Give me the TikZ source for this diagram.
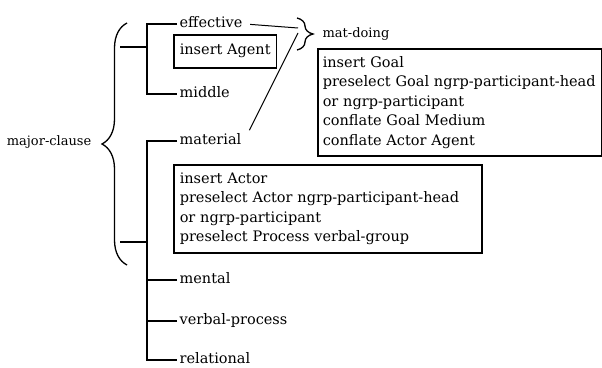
\documentclass[tikz,border=0pt]{standalone}
\usepackage{fontspec}
\setmainfont{DejaVu Serif}
\usetikzlibrary{positioning,decorations.pathreplacing}

\begin{document}
\begin{tikzpicture}[
  x=1pt, y=-1pt,
  font=\fontsize{14.5}{19.5}\selectfont,
  line width=1.3pt,
  feat/.style={anchor=west, inner xsep=2pt, inner ysep=0pt, text height=0.7em, text depth=0pt},
  realbox/.style={draw, anchor=north west, align=left, inner xsep=6pt, inner ysep=4pt, line width=1.5pt},
  brc/.style={decorate, decoration={brace, amplitude=#1}},
  small/.style={font=\fontsize{13}{16}\selectfont, inner sep=0pt}
]

\useasboundingbox (0,0) rectangle (602,367);

% system root
\node[small, anchor=east] (mc) at (92,142) {major-clause};
\draw[brc=25] (127,265) -- (127,23);
\coordinate (s1) at (120,47);
\coordinate (s2) at (120,242);
\coordinate (j1) at (147,47);
\coordinate (j2) at (147,242);

% agency
\node[feat] (eff) at (177,24) {effective};
\node[feat] (mid) at (177,94) {middle};
\draw (s1) -- (j1);
\draw (eff.west) -| (j1) |- (mid.west);
\node[realbox, minimum height=33pt] (agent) at (173,34) {insert Agent};

% process type
\node[feat] (mat) at (177,141) {material};
\node[feat] (ment) at (177,280) {mental};
\node[feat] (verb) at (177,321) {verbal-process};
\node[feat] (rel) at (177,360) {relational};
\draw (s2) -- (j2);
\draw (mat.west) -| (j2) |- (rel.west);
\draw (ment.west) -- (ment.west -| j2);
\draw (verb.west) -- (verb.west -| j2);
\node[realbox, text width=296pt, minimum height=88pt] (actor) at (173,164) {insert Actor\\preselect Actor ngrp-participant-head\\or ngrp-participant\\preselect Process verbal-group};

% gate
\draw[brc=16] (297,18) -- (297,50);
\coordinate (m1) at (298,28);
\coordinate (m2) at (298,33);
\draw[line width=1pt, shorten <=5pt] (eff.east) -- (m1);
\draw[line width=1pt, shorten <=12pt] (mat.east) -- (m2);
\node[small, anchor=west] (md) at (322,34) {mat-doing};
\node[realbox, inner xsep=5pt, text width=274pt, minimum height=107pt] (goal) at (317,48) {insert Goal\\preselect Goal ngrp-participant-head\\or ngrp-participant\\conflate Goal Medium\\conflate Actor Agent};

\end{tikzpicture}
\end{document}
